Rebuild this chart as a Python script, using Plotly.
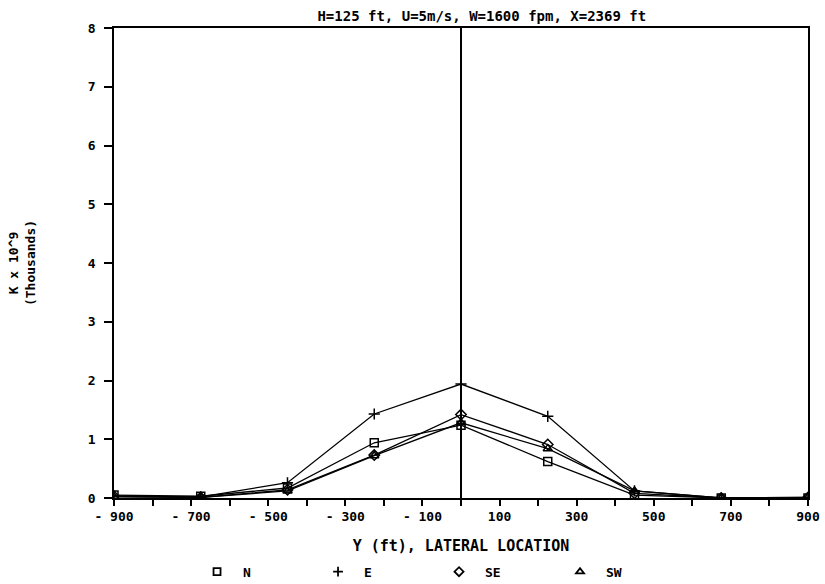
import plotly.graph_objects as go

y_pos = [-900, -675, -450, -225, 0, 225, 450, 675, 900]
k_n = [0.05, 0.03, 0.17, 0.94, 1.24, 0.62, 0.05, 0.0, 0.0]
k_e = [0.03, 0.02, 0.26, 1.43, 1.94, 1.39, 0.12, 0.0, 0.0]
k_se = [0.03, 0.01, 0.14, 0.73, 1.42, 0.91, 0.08, 0.0, 0.01]
k_sw = [0.02, 0.01, 0.12, 0.72, 1.28, 0.84, 0.12, 0.0, 0.01]
series_names = ["N", "E", "SE", "SW"]
series_vals = [k_n, k_e, k_se, k_sw]
symbols = ["square-open", "cross-thin-open", "diamond-open", "triangle-up-open"]
x_ticks = [-900, -700, -500, -300, -100, 100, 300, 500, 700, 900]
x_tick_text = ["- 900", "- 700", "- 500", "- 300", "- 100", "100", "300", "500", "700", "900"]
y_ticks = [0, 1, 2, 3, 4, 5, 6, 7, 8]

FONT = "DejaVu Sans Mono"
fig = go.Figure()
for name, vals, sym in zip(series_names, series_vals, symbols):
    fig.add_trace(go.Scatter(
        x=y_pos, y=vals, mode="lines+markers", showlegend=False,
        line=dict(color="black", width=1.3),
        marker=dict(symbol=sym, size=8, color="black", line=dict(width=1.5, color="black")),
    ))
for name, sym in zip(series_names, symbols):
    fig.add_trace(go.Scatter(
        x=[None], y=[None], mode="markers", name=f"<b>{name}</b>",
        marker=dict(symbol=sym, size=7, color="black", line=dict(width=1.8, color="black")),
    ))

fig.update_layout(
    width=825, height=584,
    margin=dict(l=114, r=17, t=28, b=86, autoexpand=False),
    paper_bgcolor="white", plot_bgcolor="white",
    font=dict(family=FONT, color="black", size=13),
    title=dict(text="<b>H=125 ft, U=5m/s, W=1600 fpm, X=2369 ft</b>", x=0.53, xref="paper",
               xanchor="center", y=0.98, yanchor="top", font=dict(size=14, family=FONT)),
    xaxis=dict(range=[-900, 900], tickvals=x_ticks, ticktext=[f"<b>{t}</b>" for t in x_tick_text],
               ticks="outside", ticklen=6, tickwidth=1.5, tickcolor="black",
               minor=dict(tickvals=list(range(-800, 900, 200)), ticks="outside", ticklen=6,
                          tickwidth=1.5, tickcolor="black"),
               showline=True, linecolor="black", linewidth=1.5, mirror=True,
               showgrid=False, zeroline=True, zerolinecolor="black", zerolinewidth=1.5,
               tickfont=dict(size=13, family=FONT),
               title=dict(text="<b>Y (ft), LATERAL LOCATION</b>", font=dict(size=15, family=FONT), standoff=17)),
    yaxis=dict(range=[0, 8], tickvals=y_ticks, ticktext=[f"<b>{v}</b>" for v in y_ticks],
               ticks="outside", ticklen=8, tickwidth=1.5, tickcolor="black",
               showline=True, linecolor="black", linewidth=1.5, mirror=True,
               showgrid=False, zeroline=False, ticklabelstandoff=6,
               tickfont=dict(size=13, family=FONT),
               title=dict(text="<b>K x 10^9<br>(Thousands)</b>", font=dict(size=13, family=FONT), standoff=49)),
    legend=dict(orientation="h", x=0.111, xanchor="left", y=-0.125, yanchor="top",
                itemwidth=42, entrywidth=64, entrywidthmode="pixels", font=dict(size=13, family=FONT)),
)
fig.write_html("out.html")
